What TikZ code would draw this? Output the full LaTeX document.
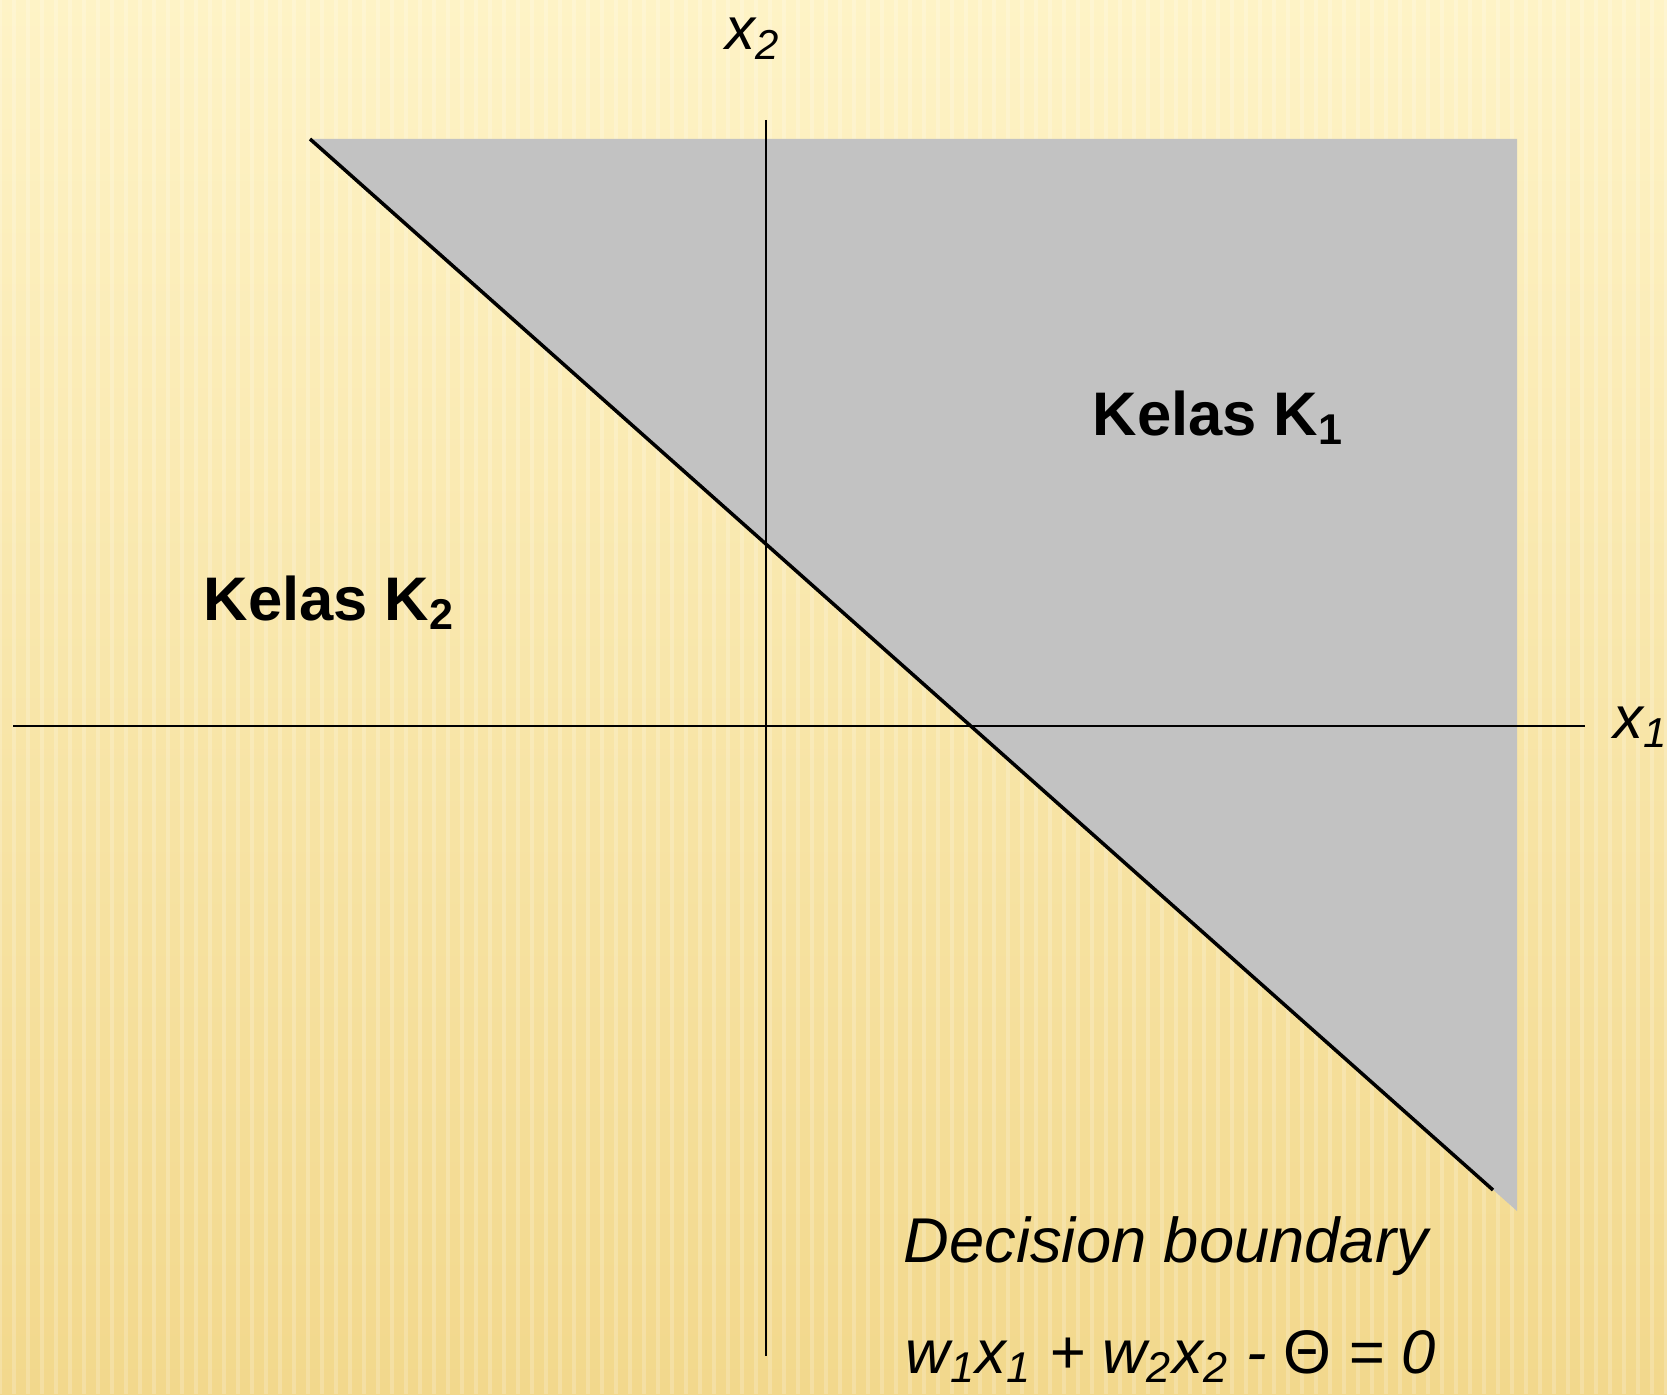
\documentclass[tikz,border=0pt]{standalone}
\usepackage{fontspec}
\setmainfont{Liberation Sans}
\usetikzlibrary{positioning}
\definecolor{papertop}{RGB}{254,243,198}
\definecolor{paperbottom}{RGB}{242,216,140}
\definecolor{regiongray}{RGB}{194,194,194}

\begin{document}
\begin{tikzpicture}[x=0.01cm, y=-0.01cm,
    axis/.style={draw=black, line width=0.6pt},
    boundary/.style={draw=black, line width=1pt},
    region/.style={fill=regiongray},
    stripe/.style={draw=white, line width=1.4pt, opacity=0.2},
    classlabel/.style={anchor=base west, inner sep=0pt, font=\fontsize{17.5}{20}\selectfont\bfseries},
    axislabel/.style={anchor=base west, inner sep=0pt, font=\fontsize{17}{20}\selectfont\itshape},
    note/.style={anchor=base west, inner sep=0pt, font=\fontsize{18}{21}\selectfont\itshape}
]

% Background
\useasboundingbox (0,0) rectangle (1667,1394);
\shade[top color=papertop, bottom color=paperbottom] (0,0) rectangle (1667,1394);
\foreach \i in {0,14,...,1667}
    \draw[stripe] (\i,0) -- (\i,1394);

% Class K1 region
\coordinate (regtl) at (310,139);
\coordinate (regtr) at (1517,139);
\coordinate (regbr) at (1517,1211);
\fill[region] (regtl) -- (regtr) -- (regbr) -- cycle;

% Axes
\coordinate (xleft) at (13,726);
\coordinate (xright) at (1585,726);
\coordinate (ytop) at (766,120);
\coordinate (ybottom) at (766,1356);
\draw[axis] (xleft) -- (xright);
\draw[axis] (ytop) -- (ybottom);
\node[axislabel] (xlab) at (1613,738) {x\textsubscript{1}};
\node[axislabel] (ylab) at (725,50) {x\textsubscript{2}};

% Decision boundary
\coordinate (bstart) at (310,139);
\coordinate (bend) at (1493,1190);
\draw[boundary] (bstart) -- (bend);

% Labels
\node[classlabel] (kone) at (1092,435) {Kelas K\textsubscript{1}};
\node[classlabel] (ktwo) at (203,620) {Kelas K\textsubscript{2}};
\node[note] (dtitle) at (903,1262) {Decision boundary};
\node[note, font=\fontsize{17.5}{21}\selectfont\itshape] (deq) at (905,1373)
    {w\textsubscript{1}x\textsubscript{1} + w\textsubscript{2}x\textsubscript{2} - \textup{Θ} = 0};

\end{tikzpicture}
\end{document}
